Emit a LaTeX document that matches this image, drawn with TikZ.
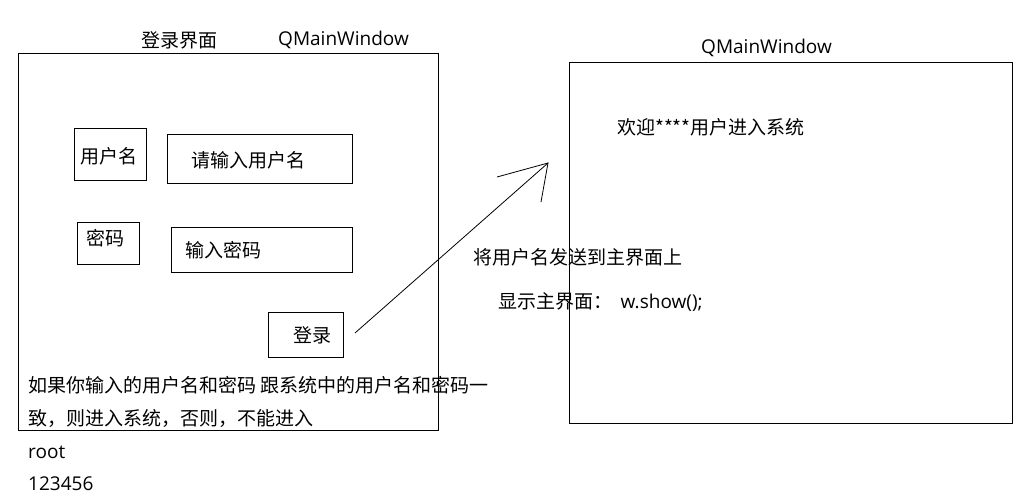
\documentclass[tikz,border=0pt]{standalone}
\usepackage{fontspec}
\setmainfont{Noto Sans CJK SC}
\newfontfamily\latinfont{Open Sans}
\begin{document}
\begin{tikzpicture}[x=1pt,y=-1pt,
  box/.style={draw=black,line width=1pt,inner sep=0pt,anchor=north west},
  lbl/.style={anchor=west,inner sep=0pt,font=\fontsize{19}{22}\selectfont},
  conn/.style={draw=black,line width=0.8pt}]
\useasboundingbox[fill=white] (0,0) rectangle (1033,503);
% windows
\node[box,minimum width=420pt,minimum height=377pt] (login) at (18,53) {};
\node[box,minimum width=443pt,minimum height=361pt] (main) at (569,62) {};
% titles
\node[lbl] (t1) at (141,40) {登录界面};
\node[lbl] (t2) at (278,40) {\latinfont QMainWindow};
\node[lbl] (t3) at (701,48) {\latinfont QMainWindow};
% input boxes
\node[box,minimum width=72pt,minimum height=52pt] (ubox) at (74,128) {};
\node[lbl] (ulbl) at (80,156) {用户名};
\node[box,minimum width=185pt,minimum height=49pt] (uin) at (167,134) {};
\node[lbl] (uintext) at (191,160) {请输入用户名};
\node[box,minimum width=62pt,minimum height=42pt] (pbox) at (77,222) {};
\node[lbl] (plbl) at (86,238) {密码};
\node[box,minimum width=181pt,minimum height=45pt] (pin) at (171,227) {};
\node[lbl] (pintext) at (185,250) {输入密码};
\node[box,minimum width=75pt,minimum height=45pt] (btn) at (268,312) {};
\node[lbl] (btntext) at (293,335) {登录};
% texts
\node[lbl] (note1) at (28,385) {如果你输入的用户名和密码 跟系统中的用户名和密码一};
\node[lbl] (note2) at (28,418) {致，则进入系统，否则，不能进入};
\node[lbl] (root) at (28,452) {\latinfont root};
\node[lbl] (pwd) at (28,484) {\latinfont 123456};
\node[lbl] (welcome) at (617,127) {欢迎****用户进入系统};
\node[lbl] (send) at (473,257) {将用户名发送到主界面上};
\node[lbl] (show) at (498,302) {显示主界面：\ \ {\latinfont w.show();}};
% hand-drawn arrow
\coordinate (astart) at (355,333);
\coordinate (atip) at (548,163);
\coordinate (abarb1) at (497,177);
\coordinate (abarb2) at (541,202);
\draw[conn] (astart) -- (atip);
\draw[conn] (abarb1) -- (atip) -- (abarb2);
\end{tikzpicture}
\end{document}
